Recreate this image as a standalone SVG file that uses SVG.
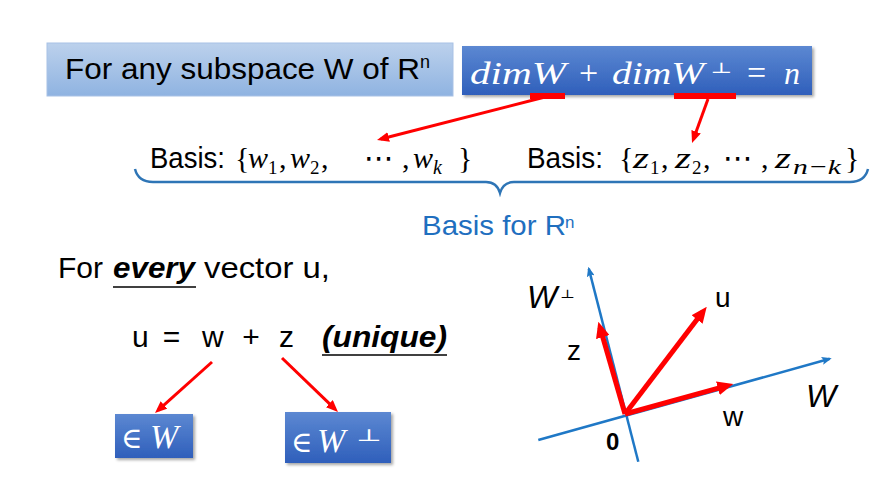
<svg xmlns="http://www.w3.org/2000/svg" width="879" height="501" viewBox="0 0 879 501">
  <style>
    .sans { font-family: "Liberation Sans", Arial, sans-serif; fill: #000; }
    .math { font-family: "Liberation Serif", "Times New Roman", serif; font-style: italic; fill: #000; }
    .mathu { font-family: "Liberation Serif", "Times New Roman", serif; font-style: normal; fill: #000; }
    .sym { font-family: "DejaVu Serif", "DejaVu Sans", serif; }
    .white { fill: #ffffff; }
    .blue { fill: #1f6fbf; }
    .thinred { stroke: #ff0000; stroke-width: 3; fill: none; }
    .thickred { stroke: #ff0000; stroke-width: 5; fill: none; }
    .axis { stroke: #1f78c6; stroke-width: 2.5; fill: none; }
    .ul { stroke: #000; stroke-width: 1.6; }
  </style>
  <defs>
    <linearGradient id="gLight" x1="0" y1="0" x2="0" y2="1">
      <stop offset="0" stop-color="#bcd1ec"/>
      <stop offset="1" stop-color="#8fb3e1"/>
    </linearGradient>
    <linearGradient id="gDark" x1="0" y1="0" x2="0" y2="1">
      <stop offset="0" stop-color="#5c88d2"/>
      <stop offset="1" stop-color="#2f5fbb"/>
    </linearGradient>
    <filter id="shadow" x="-10%" y="-20%" width="130%" height="150%">
      <feDropShadow dx="2" dy="2" stdDeviation="1.5" flood-color="#000" flood-opacity="0.35"/>
    </filter>
    <marker id="headThin" markerUnits="userSpaceOnUse" viewBox="0 0 12 10" markerWidth="12" markerHeight="10" refX="8" refY="5" orient="auto">
      <path d="M0,0 L12,5 L0,10 z" fill="#ff0000"/>
    </marker>
    <marker id="headThick" markerUnits="userSpaceOnUse" viewBox="0 0 16 14" markerWidth="16" markerHeight="14" refX="10" refY="7" orient="auto">
      <path d="M0,0 L16,7 L0,14 z" fill="#ff0000"/>
    </marker>
    <marker id="headAxis" markerUnits="userSpaceOnUse" viewBox="0 0 10 8" markerWidth="10" markerHeight="8" refX="8" refY="4" orient="auto">
      <path d="M0,0 L10,4 L0,8 L2,4 z" fill="#1f78c6"/>
    </marker>
  </defs>

  <!-- Top-left statement box -->
  <g id="box-subspace">
    <rect x="47" y="43" width="406" height="53" fill="url(#gLight)" stroke="#a8c1e5" stroke-width="1"/>
    <text class="sans" x="65" y="79" font-size="30" textLength="355" lengthAdjust="spacingAndGlyphs">For any subspace W of R</text>
    <text class="sans" x="420" y="68" font-size="18">n</text>
  </g>

  <!-- Dimension formula box -->
  <g id="box-dim">
    <rect x="462" y="46" width="350" height="49" fill="url(#gDark)" filter="url(#shadow)"/>
    <text class="math white" x="470" y="84" font-size="32" textLength="96" lengthAdjust="spacingAndGlyphs">dimW</text>
    <text class="mathu white" x="588.5" y="84" font-size="34" text-anchor="middle">+</text>
    <text class="math white" x="612" y="84" font-size="32" textLength="92" lengthAdjust="spacingAndGlyphs">dimW</text>
    <text class="sym white" x="710" y="73" font-size="15" textLength="22" lengthAdjust="spacingAndGlyphs">⊥</text>
    <text class="mathu white" x="756.5" y="84" font-size="34" text-anchor="middle">=</text>
    <text class="math white" x="784" y="84" font-size="32">n</text>
    <rect x="530" y="93" width="35" height="6" fill="#ff0000"/>
    <rect x="674" y="93" width="62" height="6" fill="#ff0000"/>
  </g>

  <!-- Basis of W -->
  <g id="basis-w">
    <text class="sans" x="150" y="168" font-size="30" textLength="75" lengthAdjust="spacingAndGlyphs">Basis:</text>
    <text class="mathu" x="235" y="168" font-size="30">{</text>
    <text class="math" x="248" y="168" font-size="30">w</text>
    <text class="mathu" x="268" y="174" font-size="19">1</text>
    <text class="mathu" x="279" y="168" font-size="30">,</text>
    <text class="math" x="290" y="168" font-size="30">w</text>
    <text class="mathu" x="310" y="174" font-size="19">2</text>
    <text class="mathu" x="321" y="168" font-size="30">,</text>
    <text class="sym" x="364" y="168" font-size="30" textLength="30" lengthAdjust="spacingAndGlyphs">⋯</text>
    <text class="mathu" x="402" y="168" font-size="30">,</text>
    <text class="math" x="413" y="168" font-size="30">w</text>
    <text class="math" x="433" y="174" font-size="20">k</text>
    <text class="mathu" x="458" y="168" font-size="30">}</text>
  </g>

  <!-- Basis of W perp -->
  <g id="basis-z">
    <text class="sans" x="527" y="168" font-size="30" textLength="76" lengthAdjust="spacingAndGlyphs">Basis:</text>
    <text class="mathu" x="619" y="168" font-size="30">{</text>
    <text class="math" x="633" y="168" font-size="30" textLength="16" lengthAdjust="spacingAndGlyphs">z</text>
    <text class="mathu" x="650" y="174" font-size="19">1</text>
    <text class="mathu" x="661" y="168" font-size="30">,</text>
    <text class="math" x="675" y="168" font-size="30" textLength="16" lengthAdjust="spacingAndGlyphs">z</text>
    <text class="mathu" x="692" y="174" font-size="19">2</text>
    <text class="mathu" x="703" y="168" font-size="30">,</text>
    <text class="sym" x="723" y="168" font-size="30" textLength="30" lengthAdjust="spacingAndGlyphs">⋯</text>
    <text class="mathu" x="761" y="168" font-size="30">,</text>
    <text class="math" x="775" y="168" font-size="30" textLength="16" lengthAdjust="spacingAndGlyphs">z</text>
    <text class="math" x="793" y="174" font-size="22" textLength="48" lengthAdjust="spacingAndGlyphs">n−k</text>
    <text class="mathu" x="845" y="168" font-size="30">}</text>
  </g>

  <!-- Brace and label -->
  <g id="brace">
    <path d="M135,169 C137,177 143,182 153,182 L486,182 C494,182 498,186 500,193 C502,186 506,182 514,182 L850,182 C860,182 866,177 868,169" stroke="#2e75b6" stroke-width="2.5" fill="none"/>
    <text class="sans blue" x="422" y="235" font-size="28" textLength="144" lengthAdjust="spacingAndGlyphs">Basis for R</text>
    <text class="sans blue" x="565" y="228" font-size="17">n</text>
  </g>

  <!-- Every vector statement -->
  <g id="every-vector">
    <text class="sans" x="58" y="278" font-size="30" textLength="45" lengthAdjust="spacingAndGlyphs">For</text>
    <text class="sans" x="113" y="278" font-size="30" font-weight="bold" font-style="italic" textLength="82" lengthAdjust="spacingAndGlyphs">every</text>
    <line class="ul" x1="113" y1="287" x2="196" y2="287"/>
    <text class="sans" x="204" y="278" font-size="30" textLength="126" lengthAdjust="spacingAndGlyphs">vector u,</text>
  </g>

  <g id="decomposition">
    <text class="sans" x="132" y="347" font-size="30">u</text>
    <text class="sans" x="171.5" y="347" font-size="30" text-anchor="middle">=</text>
    <text class="sans" x="202" y="347" font-size="30">w</text>
    <text class="sans" x="251" y="347" font-size="30" text-anchor="middle">+</text>
    <text class="sans" x="279" y="347" font-size="30">z</text>
    <text class="sans" x="322" y="347" font-size="30" font-weight="bold" font-style="italic" textLength="125" lengthAdjust="spacingAndGlyphs">(unique)</text>
    <line class="ul" x1="322" y1="355" x2="447" y2="355"/>
  </g>

  <g id="in-W">
    <rect x="115" y="414" width="78" height="44" fill="url(#gDark)" filter="url(#shadow)"/>
    <text class="sym white" x="121" y="448" font-size="29">∈</text>
    <text class="math white" x="150" y="448" font-size="34">W</text>
  </g>

  <g id="in-Wperp">
    <rect x="285" y="412" width="106" height="51" fill="url(#gDark)" filter="url(#shadow)"/>
    <text class="sym white" x="291" y="452" font-size="29">∈</text>
    <text class="math white" x="317" y="452" font-size="34">W</text>
    <text class="sym white" x="356" y="441" font-size="17" textLength="26" lengthAdjust="spacingAndGlyphs">⊥</text>
  </g>

  <!-- Vector picture -->
  <g id="axes">
    <line class="axis" x1="638.3" y1="461.7" x2="588.8" y2="268.6" marker-end="url(#headAxis)"/>
    <line class="axis" x1="538.3" y1="440" x2="829.8" y2="358.8" marker-end="url(#headAxis)"/>
  </g>

  <g id="axis-labels">
    <text class="sans" x="527" y="308" font-size="32" font-style="italic">W</text>
    <text class="sym" x="560" y="298" font-size="12" textLength="15" lengthAdjust="spacingAndGlyphs">⊥</text>
    <text class="sans" x="806" y="407" font-size="32" font-style="italic">W</text>
    <text class="sans" x="715" y="307" font-size="28">u</text>
    <text class="sans" x="567" y="360" font-size="28">z</text>
    <text class="sans" x="723" y="426" font-size="28">w</text>
    <text class="sans" x="606" y="450" font-size="24" font-weight="bold">0</text>
  </g>

  <!-- Connectors -->
  <g id="connectors">
    <line class="thinred" x1="545" y1="97" x2="380.9" y2="139" marker-end="url(#headThin)"/>
    <line class="thinred" x1="708" y1="99" x2="693.4" y2="139.2" marker-end="url(#headThin)"/>
    <line class="thinred" x1="212" y1="362" x2="158" y2="410.3" marker-end="url(#headThin)"/>
    <line class="thinred" x1="282" y1="358" x2="335.1" y2="409.2" marker-end="url(#headThin)"/>
    <line class="thickred" x1="625" y1="414" x2="600" y2="327.5" marker-end="url(#headThick)"/>
    <line class="thickred" x1="625" y1="414" x2="703.1" y2="311.5" marker-end="url(#headThick)"/>
    <line class="thickred" x1="625" y1="414" x2="727.5" y2="385.6" marker-end="url(#headThick)"/>
  </g>
</svg>
